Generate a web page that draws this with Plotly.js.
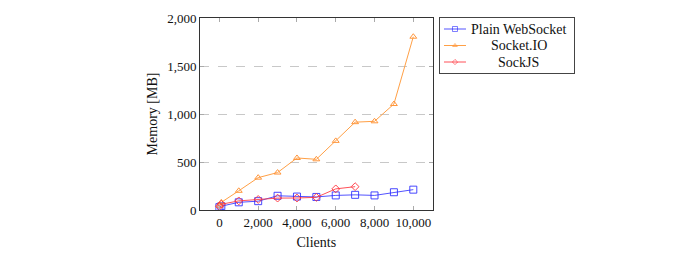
<!DOCTYPE html>
<html>
<head>
<meta charset="utf-8">
<script src="https://cdn.plot.ly/plotly-3.0.1.min.js"></script>
<style>
  html, body { margin: 0; padding: 0; background: #fff; }
  #chart { width: 700px; height: 255px; }
</style>
</head>
<body>
<div id="chart"></div>
<script>
// Memory usage per number of connected clients
const wsClients = [0, 100, 1000, 2000, 3000, 4000, 5000, 6000, 7000, 8000, 9000, 10000];
const wsMemory  = [30, 40, 80, 92, 148, 140, 136, 152, 158, 152, 185, 212];

const ioClients = [0, 100, 1000, 2000, 3000, 4000, 5000, 6000, 7000, 8000, 9000, 10000];
const ioMemory  = [45, 80, 200, 337, 390, 542, 528, 720, 915, 924, 1104, 1805];

const sjClients = [0, 100, 1000, 2000, 3000, 4000, 5000, 6000, 7000];
const sjMemory  = [40, 60, 95, 110, 124, 125, 132, 220, 243];

const seriesNames = ['Plain WebSocket', 'Socket.IO', 'SockJS'];

const yTicks = [0, 500, 1000, 1500, 2000];
const xTicks = [0, 2000, 4000, 6000, 8000, 10000];

const family = 'Liberation Serif, DejaVu Serif, serif';
const tickFont = { family: family, size: 13, color: '#111' };
const textFont = { family: family, size: 14, color: '#111' };

const styles = [
  { line: 'rgba(40,40,255,0.8)', marker: 'rgba(40,40,255,0.85)', symbol: 'square-open', size: 7 },
  { line: 'rgb(255,160,70)',     marker: 'rgb(255,150,60)',      symbol: 'triangle-up-open', size: 6 },
  { line: 'rgba(255,50,60,0.85)', marker: 'rgba(255,50,60,0.9)', symbol: 'diamond-open', size: 6 }
];

const series = [[wsClients, wsMemory], [ioClients, ioMemory], [sjClients, sjMemory]];

const traces = series.map((s, i) => ({
  x: s[0], y: s[1], name: seriesNames[i], mode: 'lines+markers',
  xaxis: 'x', yaxis: 'y', showlegend: false,
  line: { color: styles[i].line, width: 1 },
  marker: { symbol: styles[i].symbol, size: styles[i].size, color: styles[i].marker, line: { width: 1 } }
}));

// Legend box: its own little axis pair, measured in legend units
// (0..134 across, 0..55 down), with a centred text column.
const legendRows = [11, 27.5, 44];
const annotations = [];
seriesNames.forEach((name, i) => {
  traces.push({
    x: [4, 15, 26], y: [legendRows[i], legendRows[i], legendRows[i]],
    xaxis: 'x2', yaxis: 'y2', mode: 'lines+markers', showlegend: false, hoverinfo: 'skip',
    line: { color: styles[i].line, width: 1 },
    marker: { symbol: styles[i].symbol, size: [0, styles[i].size - 2, 0], color: styles[i].marker, line: { width: 1 } }
  });
  annotations.push({
    xref: 'x2', yref: 'y2', x: 79, y: legendRows[i], text: name,
    showarrow: false, xanchor: 'center', yanchor: 'middle', font: textFont
  });
});

const layout = {
  width: 700, height: 255,
  margin: { l: 200, r: 126, t: 18, b: 45, pad: 0 },
  paper_bgcolor: '#fff', plot_bgcolor: 'rgba(0,0,0,0)',
  font: tickFont,
  separators: '.,',
  showlegend: false,
  annotations: annotations,
  xaxis: {
    domain: [0, 0.6222],
    range: [-1000, 11000],
    tickvals: xTicks, tickformat: ',d', tickfont: tickFont,
    ticks: 'inside', ticklen: 4, tickcolor: '#aaa', tickwidth: 1,
    showline: true, linecolor: '#333', linewidth: 1, mirror: 'ticks',
    showgrid: false, zeroline: false,
    title: { text: 'Clients', font: textFont, standoff: 8 }
  },
  yaxis: {
    range: [0, 2000],
    tickvals: yTicks, tickformat: ',d', tickfont: tickFont,
    ticks: 'inside', ticklen: 4, tickcolor: '#aaa', tickwidth: 1,
    showline: true, linecolor: '#333', linewidth: 1, mirror: 'ticks',
    showgrid: true, gridcolor: '#c8c8c8', griddash: 'dash', gridwidth: 1,
    zeroline: false,
    title: { text: 'Memory [MB]', font: textFont, standoff: 6 }
  },
  xaxis2: {
    domain: [0.6417, 1.0], anchor: 'y2', range: [0, 134],
    showline: true, mirror: true, linecolor: '#444', linewidth: 1,
    showgrid: false, zeroline: false, showticklabels: false, ticks: ''
  },
  yaxis2: {
    domain: [0.7135, 1.0], anchor: 'x2', range: [55, 0],
    showline: true, mirror: true, linecolor: '#444', linewidth: 1,
    showgrid: false, zeroline: false, showticklabels: false, ticks: ''
  }
};

Plotly.newPlot('chart', traces, layout, { displayModeBar: false, staticPlot: true });
</script>
</body>
</html>
